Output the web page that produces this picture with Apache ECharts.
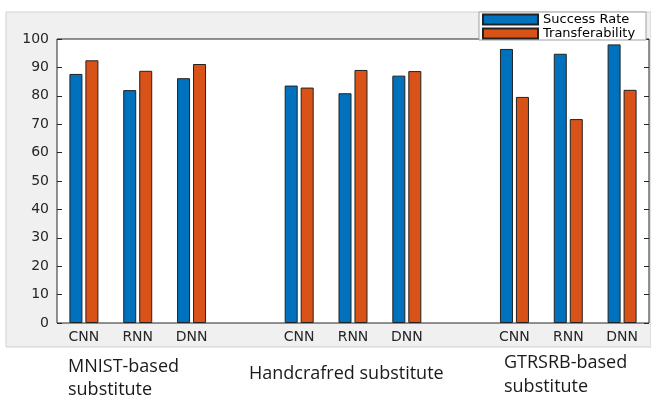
<!DOCTYPE html>
<html>
<head>
<meta charset="utf-8">
<script src="https://cdn.jsdelivr.net/npm/echarts@6/dist/echarts.min.js"></script>
<style>
  html, body { margin: 0; padding: 0; background: #fff; }
  #chart { width: 651px; height: 399px; }
</style>
</head>
<body>
<div id="chart"></div>
<script>
// empty strings are the gaps between the three groups
const categories = ["CNN", "RNN", "DNN", "", "CNN", "RNN", "DNN", "", "CNN", "RNN", "DNN"]
const successRate = [87.7, 82.0, 86.2, null, 83.6, 80.9, 87.1, null, 96.5, 94.8, 98.1]
const transferability = [92.5, 88.8, 91.2, null, 82.9, 89.1, 88.7, null, 79.6, 71.8, 82.1]
const groupLabels = ["MNIST-based\nsubstitute", "Handcrafred substitute", "GTRSRB-based\nsubstitute"]

const chart = echarts.init(document.getElementById("chart"))

const axisFont = { fontFamily: "DejaVu Sans", fontSize: 14, color: "#262626" }
const groupFont = '18px "Open Sans"'
const tickAt = (index) => categories[index] !== ""

const option = {
  backgroundColor: "#fff",
  animation: false,
  graphic: [
    {
      type: "rect",
      z: -10,
      shape: { x: 6, y: 12, width: 645, height: 335 },
      style: { fill: "#f0f0f0", stroke: "#d0d0d0", lineWidth: 1 },
    },
    {
      type: "text",
      left: 68,
      top: 355,
      style: { text: groupLabels[0], font: groupFont, fill: "#1a1a1a", lineHeight: 23 },
    },
    {
      type: "text",
      left: 249,
      top: 362,
      style: { text: groupLabels[1], font: groupFont, fill: "#1a1a1a", lineHeight: 23 },
    },
    {
      type: "text",
      left: 504,
      top: 351,
      style: { text: groupLabels[2], font: groupFont, fill: "#1a1a1a", lineHeight: 24 },
    },
  ],
  legend: {
    orient: "vertical",
    left: 479,
    top: 12,
    icon: "rect",
    itemWidth: 55,
    itemHeight: 10,
    itemGap: 1,
    padding: [1, 3, 0, 3],
    backgroundColor: "#fff",
    borderColor: "#a0a0a0",
    borderWidth: 1,
    textStyle: { fontFamily: "DejaVu Sans", fontSize: 13, color: "#000", lineHeight: 12, width: 100 },
  },
  grid: {
    left: 57,
    right: 2,
    top: 39,
    bottom: 76,
    show: true,
    backgroundColor: "#fff",
    borderColor: "#262626",
    borderWidth: 1,
  },
  xAxis: [
    {
      type: "category",
      data: categories,
      axisLine: { show: false },
      axisTick: { inside: true, length: 5, alignWithLabel: true, interval: tickAt, lineStyle: { color: "#262626" } },
      axisLabel: { ...axisFont, margin: 7, interval: 0 },
      splitLine: { show: false },
    },
    {
      type: "category",
      position: "top",
      data: categories,
      axisLine: { show: false },
      axisTick: { inside: true, length: 5, alignWithLabel: true, interval: tickAt, lineStyle: { color: "#262626" } },
      axisLabel: { show: false },
    },
  ],
  yAxis: [
    {
      type: "value",
      min: 0,
      max: 100,
      interval: 10,
      axisLine: { show: false },
      axisTick: { show: true, inside: true, length: 5, lineStyle: { color: "#262626" } },
      axisLabel: { ...axisFont, margin: 8 },
      splitLine: { show: false },
    },
    {
      type: "value",
      position: "right",
      min: 0,
      max: 100,
      interval: 10,
      axisLine: { show: false },
      axisTick: { show: true, inside: true, length: 5, lineStyle: { color: "#262626" } },
      axisLabel: { show: false },
      splitLine: { show: false },
    },
  ],
  series: [
    {
      name: "Success Rate",
      type: "bar",
      data: successRate,
      barWidth: 13,
      barGap: "23%",
      itemStyle: { color: "#0072BD", borderColor: "#222", borderWidth: 1 },
    },
    {
      name: "Transferability",
      type: "bar",
      data: transferability,
      barWidth: 13,
      barGap: "23%",
      itemStyle: { color: "#D95319", borderColor: "#222", borderWidth: 1 },
    },
  ],
}

chart.setOption(option)
</script>
</body>
</html>
